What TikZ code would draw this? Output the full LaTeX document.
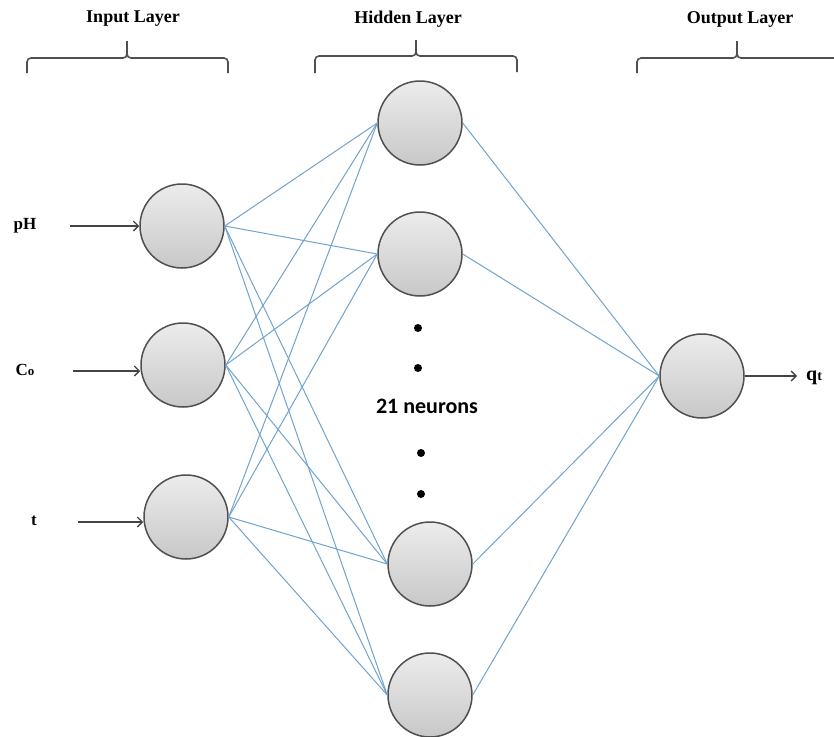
\documentclass[tikz,border=0pt]{standalone}
\usepackage{fontspec}
\setmainfont{Liberation Serif}
\newfontfamily\carlito{Carlito}
\usetikzlibrary{arrows.meta}
\definecolor{wirecol}{RGB}{112,163,205}
\definecolor{rim}{RGB}{80,80,80}
\definecolor{nodetop}{RGB}{236,236,236}
\definecolor{nodebot}{RGB}{200,200,200}
\tikzset{
  neuron/.style={circle, minimum size=84pt, inner sep=0pt, draw=rim, line width=1.5pt,
    top color=nodetop, bottom color=nodebot},
  link/.style={draw=wirecol, line width=1pt},
  ioarrow/.style={draw=rim!85!black, line width=1.5pt, -{Straight Barb[length=5pt,width=10pt,line width=1.3pt]}},
  bracepath/.style={draw=rim, line width=1.6pt, rounded corners=4pt},
  header/.style={font=\fontsize{18}{20}\selectfont\bfseries, inner sep=0pt},
  inlabel/.style={font=\fontsize{17}{19}\selectfont\bfseries, inner sep=0pt},
  dotnode/.style={circle, fill=black, minimum size=8pt, inner sep=0pt},
}
\begin{document}
\begin{tikzpicture}[x=1pt,y=-1pt]
\useasboundingbox (0,0) rectangle (834,736);

% headers
\node[header] (hin) at (133,19) {Input Layer};
\node[header] (hhid) at (408,19) {Hidden Layer};
\node[header] (hout) at (740,19) {Output Layer};

% braces
\draw[bracepath] (27,73) |- (127,58) -- (127,41);
\draw[bracepath] (127,41) -- (127,58) -| (228,73);
\draw[bracepath] (315,73) |- (416,56) -- (416,40);
\draw[bracepath] (416,40) -- (416,56) -| (517,72);
\draw[bracepath] (637,73) |- (737,58) -- (737,41);
\draw[bracepath] (737,41) -- (737,58) -- (834,58);

% neurons
\node[neuron] (I1) at (182,226) {};
\node[neuron] (I2) at (183,365) {};
\node[neuron] (I3) at (186,517) {};
\node[neuron] (H1) at (420,123) {};
\node[neuron] (H2) at (420,254) {};
\node[neuron] (H3) at (430,564) {};
\node[neuron] (H4) at (430,695) {};
\node[neuron] (O) at (702,376) {};

% connections
\foreach \i in {I1,I2,I3}{
  \foreach \h in {H1,H2,H3,H4}{
    \draw[link] (\i.east) -- (\h.west);
  }
}
\foreach \h in {H1,H2,H3,H4}{
  \draw[link] (\h.east) -- (O.west);
}

% dots and label
\node[dotnode] (d1) at (418,328) {};
\node[dotnode] (d2) at (418,368) {};
\node[font=\carlito\fontsize{22}{24}\selectfont\bfseries, inner sep=0pt] (nn) at (427,406) {21 neurons};
\node[dotnode] (d3) at (421,453) {};
\node[dotnode] (d4) at (421,494) {};

% input labels and arrows
\node[inlabel] (lpH) at (25,226) {pH};
\node[inlabel] (lCo) at (25,370) {C{\fontsize{13}{14}\selectfont o}};
\node[inlabel] (lt) at (34,521) {t};
\coordinate (a1) at (70,226);
\coordinate (a2) at (73,371);
\coordinate (a3) at (78,522);
\draw[ioarrow] (a1) -- (I1.west);
\draw[ioarrow] (a2) -- (a2 -| I2.west);
\draw[ioarrow] (a3) -- (a3 -| I3.west);

% output
\coordinate (oe) at (797,376);
\draw[ioarrow] (O.east) -- (oe);
\node[inlabel, anchor=west, font=\fontsize{20}{22}\selectfont\bfseries] (lq) at (806,378) {q{\fontsize{14}{15}\selectfont t}};
\end{tikzpicture}
\end{document}
